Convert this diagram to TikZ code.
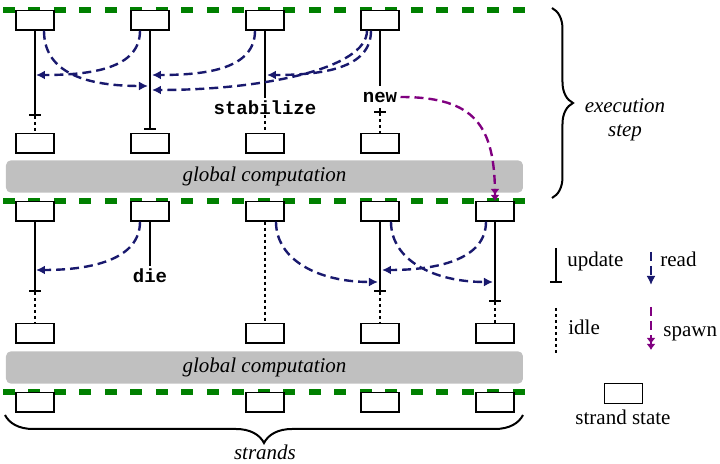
\documentclass[tikz,border=0pt]{standalone}
\usepackage{fontspec}
\setmainfont{Liberation Serif}
\setmonofont{Liberation Mono}
\usetikzlibrary{arrows.meta,decorations.pathreplacing}
\definecolor{readblue}{RGB}{25,25,110}
\definecolor{spawnpurple}{RGB}{128,0,128}
\definecolor{stepgreen}{RGB}{0,128,0}
\definecolor{gcgray}{RGB}{192,192,192}

\begin{document}
\begin{tikzpicture}[x=0.5pt, y=-0.5pt, font=\fontsize{10.5}{13.5}\selectfont,
    sbox/.style={draw, fill=white, line width=0.6pt, minimum width=19pt, minimum height=9.75pt, inner sep=0pt, anchor=north},
    strand/.style={line width=1.2pt},
    upd/.style={strand, -{Bar[width=6pt]}},
    idle/.style={strand, dash pattern=on 1.5pt off 1.5pt},
    rd/.style={readblue, line width=1.2pt, dash pattern=on 4.5pt off 2.5pt, -{Latex[length=4.5pt,width=4.5pt]}},
    spn/.style={spawnpurple, line width=1.2pt, dash pattern=on 4.5pt off 2.5pt, -{Latex[length=3pt,width=4.5pt]Latex[length=3pt,width=4.5pt]}},
    cmd/.style={font=\fontsize{9.5}{11}\selectfont\ttfamily\bfseries, inner sep=1.5pt, text height=7pt, text depth=1pt, anchor=base},
    gc/.style={fill=gcgray, rounded corners=2.5pt, minimum width=258.5pt, minimum height=13.5pt, font=\fontsize{10.5}{13.5}\selectfont\itshape},
    lbl/.style={inner sep=0pt, anchor=base west}]
    \useasboundingbox (0,0) rectangle (720,464);
    \foreach \y in {10,201,392}
        \draw[stepgreen, line width=3pt, dash pattern=on 6pt off 6.75pt] (3,\y) -- (527,\y);
    \foreach \c/\x in {1/35,2/150,3/265,4/380} {
        \node[sbox] (s1-\c) at (\x,10) {};
        \node[sbox] (s2-\c) at (\x,133) {};
    }
    \foreach \c/\x in {1/35,2/150,3/265,4/380,5/495}
        \node[sbox] (s3-\c) at (\x,201) {};
    \foreach \c/\x in {1/35,3/265,4/380,5/495} {
        \node[sbox] (s4-\c) at (\x,323) {};
        \node[sbox] (s5-\c) at (\x,392) {};
    }
    \node[gc] (gc1) at (264.5,176.5) {global computation};
    \node[gc] (gc2) at (264.5,367.5) {global computation};
    \node[cmd] (stab) at (265,115) {stabilize};
    \node[cmd] (new) at (380,103) {new};
    \node[cmd] (die) at (150,283) {die};

    \coordinate (e1) at (35,116);
    \coordinate (e2) at (150,130);
    \coordinate (e4) at (380,113);
    \coordinate (f1) at (35,292);
    \coordinate (f4) at (380,292);
    \coordinate (f5) at (495,302);
    \foreach \a/\e/\b in {s1-1/e1/s2-1, s3-1/f1/s4-1, s3-4/f4/s4-4, s3-5/f5/s4-5} {
        \draw[upd] (\a.south) -- (\e);
        \draw[idle] (\e) -- (\b.north);
    }
    \draw[upd] (s1-2.south) -- (e2);
    \draw[strand] (s1-3.south) -- (stab.north);
    \draw[idle] (stab.base) -- (s2-3.north);
    \draw[strand] (s1-4.south) -- (new.north);
    \draw[upd] (new.south) -- (e4);
    \draw[idle] (e4) -- (s2-4.north);
    \draw[strand] (s3-2.south) -- (die.north);
    \draw[idle] (s3-3.south) -- (s4-3.north);

    \coordinate (r1) at (148,86);
    \coordinate (r2) at (36,75);
    \coordinate (r3) at (152,75);
    \coordinate (r4) at (267,75);
    \coordinate (r5) at (152,90);
    \coordinate (q1) at (36,270);
    \coordinate (q2) at (378,282);
    \coordinate (q3) at (382,270);
    \coordinate (q4) at (493,282);
    \foreach \a/\dx/\b/\cx in {s1-1/4.5/r1/-70, s1-2/-5/r2/55, s1-3/-5/r3/55, s1-4/-4.5/r4/55, s1-4/-6.5/r5/110,
                               s3-2/-5/q1/55, s3-3/5.5/q2/-60, s3-5/-4.5/q3/55, s3-4/5.5/q4/-60}
        \draw[rd] ([xshift=\dx pt]\a.south) .. controls +(0,38) and +(\cx,0) .. (\b);
    \draw[spn] (new.east) .. controls +(75,0) and +(0,-75) .. (s3-5.north);

    \draw[decorate, decoration={brace, amplitude=10.5pt}, line width=1pt] (552,8) -- (552,198);
    \node[align=center, font=\fontsize{10.5}{12}\selectfont\itshape] (exec) at (625,120) {execution\\step};
    \draw[decorate, decoration={brace, amplitude=14pt}, line width=1pt] (523,415) -- (5,415);
    \node[anchor=base, font=\fontsize{10.5}{13.5}\selectfont\itshape] (strands) at (265,460) {strands};

    \node[lbl] (lupd) at (567,267) {update};
    \node[lbl] (lrd) at (660,267) {read};
    \node[lbl] (lidl) at (568,335) {idle};
    \node[lbl] (lspn) at (663,337) {spawn};
    \draw[upd] ([shift={(-11,-19)}]lupd.base west) -- ([shift={(-11,16)}]lupd.base west);
    \draw[rd] ([shift={(-9,-15)}]lrd.base west) -- ([shift={(-9,18)}]lrd.base west);
    \draw[idle] ([shift={(-12,-27)}]lidl.base west) -- ([shift={(-12,18)}]lidl.base west);
    \draw[spn] ([shift={(-12,-30)}]lspn.base west) -- ([shift={(-12,13)}]lspn.base west);
    \node[sbox, anchor=center] (lbox) at (623.5,393.5) {};
    \node[anchor=base, inner sep=0pt] (lst) at (623,425) {strand state};
\end{tikzpicture}
\end{document}
